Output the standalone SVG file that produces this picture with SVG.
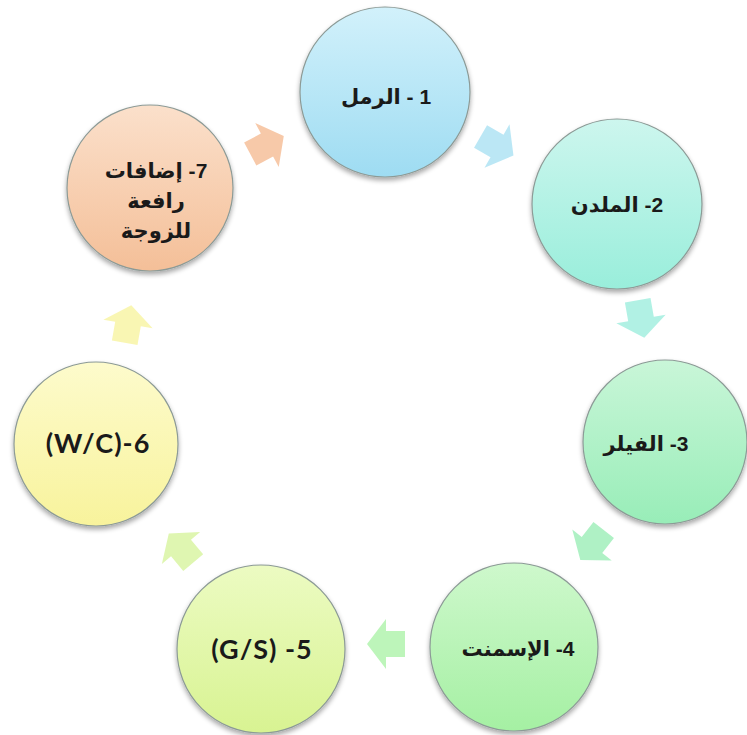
<svg xmlns="http://www.w3.org/2000/svg" width="747" height="735" viewBox="0 0 747 735">
<defs>
<filter id="sh" x="-20%" y="-20%" width="140%" height="140%">
<feGaussianBlur in="SourceAlpha" stdDeviation="2.5"/>
<feOffset dx="0" dy="3" result="b"/>
<feComponentTransfer><feFuncA type="linear" slope="0.35"/></feComponentTransfer>
<feMerge><feMergeNode/><feMergeNode in="SourceGraphic"/></feMerge>
</filter>
<linearGradient id="g1" x1="0" y1="0" x2="0" y2="1"><stop offset="0" stop-color="#d2f1fb"/><stop offset="1" stop-color="#9edcf2"/></linearGradient>
<linearGradient id="g2" x1="0" y1="0" x2="0" y2="1"><stop offset="0" stop-color="#cdf6ee"/><stop offset="1" stop-color="#99eedb"/></linearGradient>
<linearGradient id="g3" x1="0" y1="0" x2="0" y2="1"><stop offset="0" stop-color="#c9f6d8"/><stop offset="1" stop-color="#98edb8"/></linearGradient>
<linearGradient id="g4" x1="0" y1="0" x2="0" y2="1"><stop offset="0" stop-color="#cef8cc"/><stop offset="1" stop-color="#a5f0a3"/></linearGradient>
<linearGradient id="g5" x1="0" y1="0" x2="0" y2="1"><stop offset="0" stop-color="#ecfbc2"/><stop offset="1" stop-color="#d8f392"/></linearGradient>
<linearGradient id="g6" x1="0" y1="0" x2="0" y2="1"><stop offset="0" stop-color="#fdfbcc"/><stop offset="1" stop-color="#f8f39c"/></linearGradient>
<linearGradient id="g7" x1="0" y1="0" x2="0" y2="1"><stop offset="0" stop-color="#fbe0cb"/><stop offset="1" stop-color="#f4bf98"/></linearGradient>
<polygon id="arr" points="-19,-13 0,-13 0,-25 19,0 0,25 0,13 -19,13"/>
</defs>
<style>
.c{stroke:#8c9a96;stroke-width:1.2;filter:url(#sh)}
.t{font-family:"Liberation Sans","DejaVu Sans",sans-serif;font-weight:bold;font-size:21px;fill:#1a1a1a;text-anchor:middle}
.l{font-family:Lato,"Open Sans",sans-serif;font-weight:bold;font-size:27px;letter-spacing:1px;fill:#1a1a1a;text-anchor:middle}
.a{opacity:0.9}
</style>
<g id="connectors">
<use href="#arr" class="a" fill="#b4e4f4" transform="translate(497,146) rotate(30)"/>
<use href="#arr" class="a" fill="#a9efe1" transform="translate(641,319) rotate(80)"/>
<use href="#arr" class="a" fill="#a6efbf" transform="translate(592,545) rotate(128)"/>
<use href="#arr" class="a" fill="#b6f4b3" transform="translate(386,644) rotate(180)"/>
<use href="#arr" class="a" fill="#dcf5a8" transform="translate(181,548) rotate(230)"/>
<use href="#arr" class="a" fill="#f8f5ab" transform="translate(128,324) rotate(280)"/>
<use href="#arr" class="a" fill="#f6c3a0" transform="translate(267,145) rotate(332)"/>
</g>
<g id="n1"><circle class="c" cx="385" cy="92" r="85" fill="url(#g1)"/><text class="t" x="386" y="104" direction="rtl">1 - الرمل</text></g>
<g id="n2"><circle class="c" cx="617" cy="204" r="85" fill="url(#g2)"/><text class="t" x="617" y="212" direction="rtl">2- الملدن</text></g>
<g id="n3"><circle class="c" cx="665" cy="442" r="82" fill="url(#g3)"/><text class="t" x="646" y="451" direction="rtl">3- الفيلر</text></g>
<g id="n4"><circle class="c" cx="514" cy="647" r="84" fill="url(#g4)"/><text class="t" x="518" y="656" direction="rtl">4- الإسمنت</text></g>
<g id="n5"><circle class="c" cx="261" cy="649" r="84" fill="url(#g5)"/><text class="l" x="262" y="659">(G/S) -5</text></g>
<g id="n6"><circle class="c" cx="96" cy="444" r="82" fill="url(#g6)"/><text class="l" x="98" y="453">(W/C)-6</text></g>
<g id="n7"><circle class="c" cx="150" cy="188" r="83" fill="url(#g7)"/>
<text class="t" x="156" y="178" direction="rtl">7- إضافات</text>
<text class="t" x="156" y="208" direction="rtl">رافعة</text>
<text class="t" x="156" y="238" direction="rtl">للزوجة</text></g>
</svg>
